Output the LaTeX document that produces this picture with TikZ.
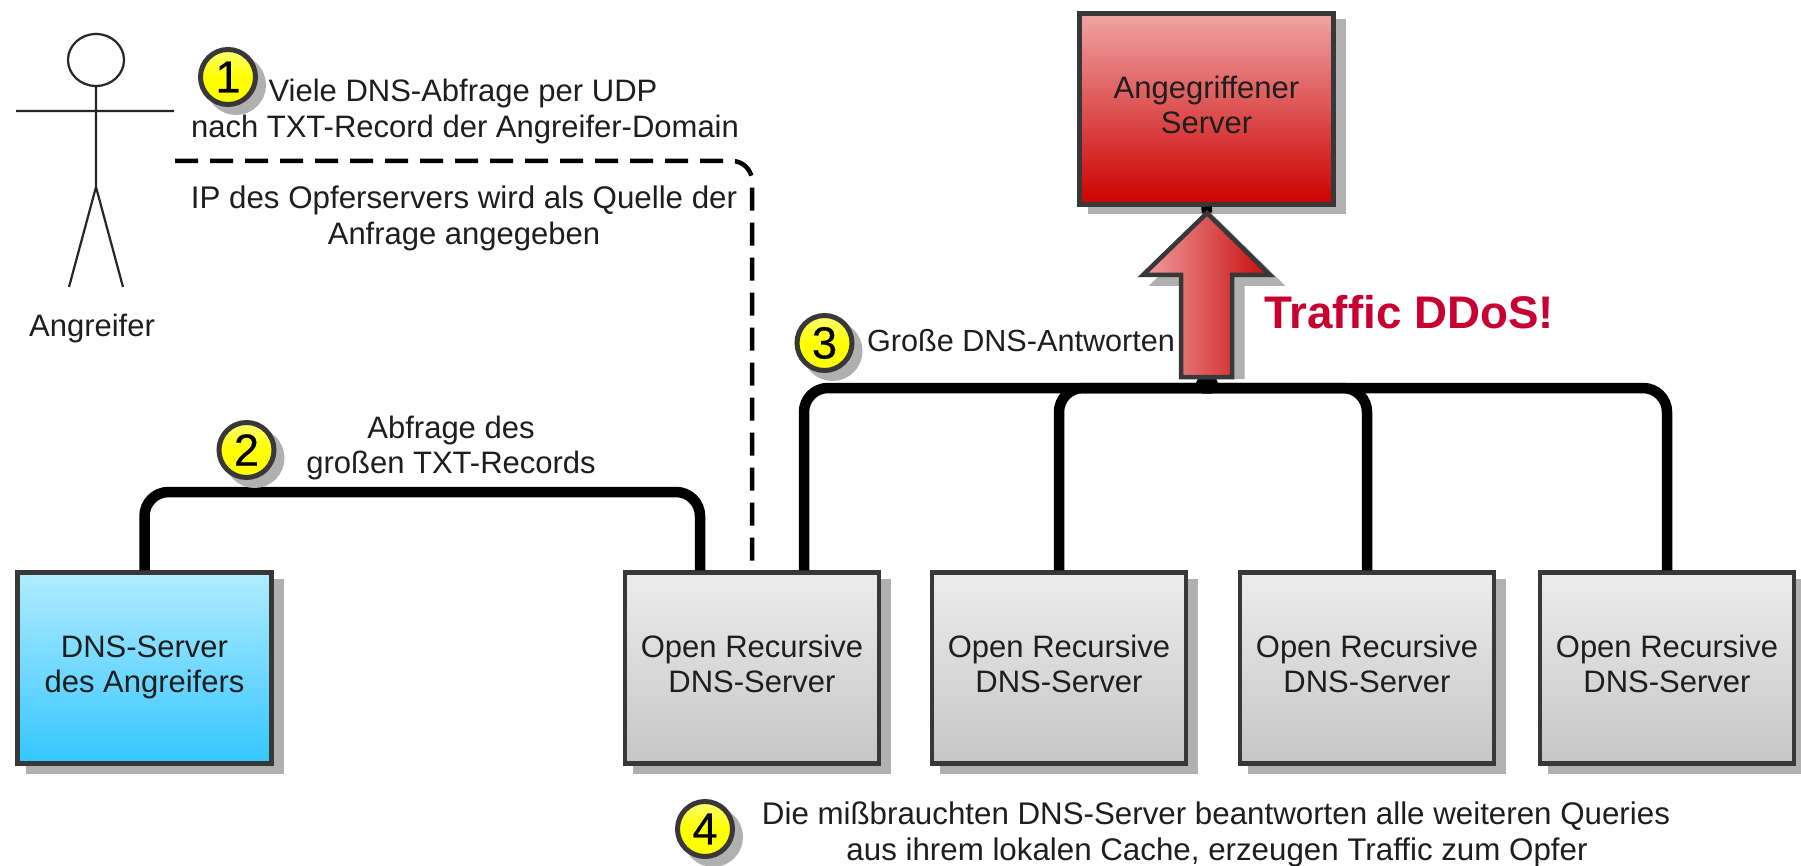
\documentclass[tikz,border=0pt]{standalone}
\usepackage{fontspec}
\setmainfont{Liberation Sans}
\newfontfamily\digitfont[FakeBold=0.6]{Liberation Sans}
\usetikzlibrary{positioning}
\definecolor{bordergray}{HTML}{383838}
\definecolor{shadowgray}{HTML}{B0B0B0}
\definecolor{inkgray}{HTML}{1E1E1E}
\definecolor{ddosred}{HTML}{C80032}
\newcommand{\bodyfont}{\fontsize{31}{35}\selectfont}
\newcommand{\widefont}{\fontsize{31.3}{35}\selectfont}
\newcommand{\narrowfont}{\fontsize{30.6}{35}\selectfont}
\newcommand{\boxtext}[2][4pt]{\raisebox{#1}{\begin{tabular}{@{}c@{}}#2\end{tabular}}}
\tikzset{
  x=1pt, y=-1pt,
  boxshadow/.style={preaction={draw=shadowgray,fill=shadowgray,line width=4pt,
      transform canvas={shift={(10pt,-8pt)}}}},
  serverbox/.style={rectangle,draw=bordergray,line width=4.5pt,boxshadow,
      minimum width=254pt,minimum height=191pt,inner sep=0pt,
      font=\bodyfont,text=inkgray,align=center},
  grayserver/.style={serverbox,top color=gray!15!white,bottom color=gray!45!white},
  blueserver/.style={serverbox,top color=blueTop,bottom color=blueBot},
  redserver/.style={serverbox,top color=redTop,bottom color=redBot},
  numball/.style={circle,draw=bordergray,line width=5pt,minimum size=55pt,inner sep=0pt,
      top color=yellow!55!white,bottom color=yellow,middle color=yellow,
      font=\digitfont\fontsize{45}{45}\selectfont,text=black,
      preaction={fill=shadowgray,draw=shadowgray,line width=5pt,
      transform canvas={shift={(8pt,-8pt)}}}},
  note/.style={font=\bodyfont,text=inkgray,align=center,inner sep=0pt,text height=22pt,text depth=7pt},
  conn/.style={draw=black,line width=10.5pt,rounded corners=24pt},
  dashconn/.style={draw=black,line width=4.5pt,rounded corners=20pt,dash pattern=on 23pt off 12pt},
  stick/.style={draw=black!85,line width=2.2pt},
}
\definecolor{blueTop}{HTML}{B2ECFF}
\definecolor{blueBot}{HTML}{33C6FF}
\definecolor{redTop}{HTML}{EFA4A4}
\definecolor{redBot}{HTML}{CC0000}
\definecolor{arrowL}{HTML}{EFA0A0}
\definecolor{arrowR}{HTML}{C80A0A}
\begin{document}
\begin{tikzpicture}
\useasboundingbox (0,0) rectangle (1801,866);
\fill[white] (0,0) rectangle (1801,866);

% actor
\draw[stick] (96,60) ellipse [x radius=28pt,y radius=26pt];
\draw[stick] (96,86) -- (96,187) (16,111) -- (174,111)
             (69,287) -- (96,187) -- (123,287);
\coordinate (actorhand) at (175,161);
\node[note] (actorlabel) at (92,329) {Angreifer};

% servers
\node[redserver] (victim) at (1206.5,109) {\boxtext[5.5pt]{Angegriffener\\Server}};
\node[blueserver] (attackerdns) at (144.5,668) {\boxtext{DNS-Server\\des Angreifers}};
\node[grayserver] (open1) at (752,668) {\boxtext{Open Recursive\\DNS-Server}};
\node[grayserver] (open2) at (1059,668) {\boxtext{Open Recursive\\DNS-Server}};
\node[grayserver] (open3) at (1367,668) {\boxtext{Open Recursive\\DNS-Server}};
\node[grayserver] (open4) at (1667,668) {\boxtext{Open Recursive\\DNS-Server}};

% connectors
\coordinate (top2) at (450,492);
\draw[conn] (attackerdns.north) |- (top2) -| ([xshift=-52pt]open1.north);
\draw[dashconn] (actorhand) -| (open1.north);

\coordinate (arrowbase) at (1207,377);
\coordinate (arrowtip) at (1207,213);
\coordinate (busL) at (1188,388);
\coordinate (busR) at (1226,388);
\coordinate (ctlLa) at (1196,388);
\coordinate (ctlLb) at (1201,383);
\coordinate (ctlRa) at (1218,388);
\coordinate (ctlRb) at (1213,383);
\draw[conn] ([xshift=52pt]open1.north) |- (busL) [sharp corners] .. controls (ctlLa) and (ctlLb) .. (arrowbase);
\draw[conn] (open2.north) |- (busL) [sharp corners] .. controls (ctlLa) and (ctlLb) .. (arrowbase);
\draw[conn] (open3.north) |- (busR) [sharp corners] .. controls (ctlRa) and (ctlRb) .. (arrowbase);
\draw[conn] (open4.north) |- (busR) [sharp corners] .. controls (ctlRa) and (ctlRb) .. (arrowbase);

% stub from the fat arrow to the victim
\draw[draw=black,line width=10.5pt] (arrowtip) -- (victim.south);

% fat arrow
\fill[shadowgray,draw=shadowgray,line width=4pt,miter limit=10,shift={(10.5,9)}]
   (1207,213) -- (1270,275) -- (1232,275) -- (1232,368) -- (1181,368) -- (1181,275) -- (1143,275) -- cycle;
\path[draw=bordergray,line width=4.5pt,miter limit=10,left color=arrowL,right color=arrowR]
   (arrowtip) -- (1270,275) -- (1232,275) -- (1232,377) -- (1181,377) -- (1181,275) -- (1143,275) -- cycle;

\node[font=\bfseries\fontsize{45.7}{45.7}\selectfont,text=ddosred,inner sep=0pt] (ddos) at (1409,312) {Traffic DDoS!};

% balloons
\node[numball] (b1) at (228,77) {1};
\node[numball] (b2) at (246.5,450) {2};
\node[numball] (b3) at (824.5,343) {3};
\node[numball] (b4) at (705,829) {4};

% notes
\node[note] (n1a) at (463,94.5) {Viele DNS-Abfrage per UDP};
\node[note] (n1b) at (465,130.5) {nach TXT-Record der Angreifer-Domain};
\node[note,font=\widefont] (n1c) at (464,201) {IP des Opferservers wird als Quelle der};
\node[note] (n1d) at (464,237.5) {Anfrage angegeben};
\node[note] (n2a) at (451,430.5) {Abfrage des};
\node[note] (n2b) at (451,465.5) {großen TXT-Records};
\node[note,font=\narrowfont] (n3) at (1021,344) {Große DNS-Antworten};
\node[note,font=\widefont] (n4a) at (1216,816.5) {Die mißbrauchten DNS-Server beantworten alle weiteren Queries};
\node[note,font=\widefont] (n4b) at (1217,852.5) {aus ihrem lokalen Cache, erzeugen Traffic zum Opfer};
\end{tikzpicture}
\end{document}
